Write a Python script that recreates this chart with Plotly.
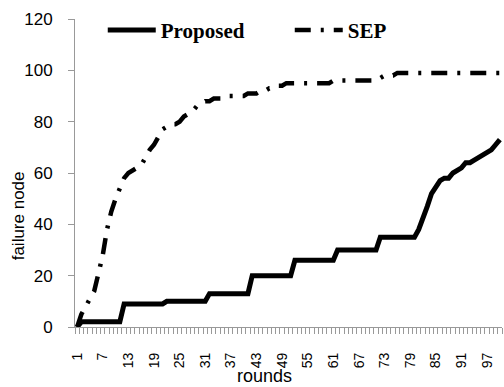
import plotly.graph_objects as go

rounds = list(range(1, 101))

proposed = (
    [0] + [2] * 10 + [9] * 10 + [10] * 10 + [13] * 10 + [20] * 10 + [26] * 10
    + [30] * 10 + [35] * 9
    + [38, 42, 47, 52, 55, 57, 58, 58, 60, 61, 62, 64, 64, 65, 66, 67, 68, 69, 71, 73]
)

sep = (
    [0, 5, 8, 11, 14, 21, 28, 38, 45, 50,
     54, 58, 60, 61, 62, 63, 66, 69, 71, 74,
     77, 78, 79, 79, 80, 82, 83, 84, 86, 87,
     88, 88, 89, 89, 89, 90, 90, 90, 90, 90,
     91, 91, 91, 92, 92, 93, 93, 94, 94, 95]
    + [95] * 10 + [96] * 10 + [97, 97, 98, 98, 98] + [99] * 25
)

xtick_vals = list(range(1, 101, 6))

fig = go.Figure()
fig.add_trace(go.Scatter(x=rounds, y=proposed, mode="lines", name="Proposed",
                         line=dict(color="black", width=5)))
fig.add_trace(go.Scatter(x=rounds, y=sep, mode="lines", name="SEP",
                         line=dict(color="black", width=4.5, dash="16px,10px,3px,10px")))

fig.update_layout(
    width=504, height=387,
    margin=dict(l=75, r=2, t=19, b=60),
    paper_bgcolor="white", plot_bgcolor="white",
    showlegend=True,
    legend=dict(orientation="h", x=0.065, y=1.03, xanchor="left", yanchor="top",
                font=dict(family="Liberation Serif", size=21, color="black", weight="bold"),
                bgcolor="rgba(0,0,0,0)", entrywidth=124, itemwidth=48,
                tracegroupgap=0),
    font=dict(family="Liberation Sans", color="black"),
)

fig.update_xaxes(
    range=[0.5, 100.5], tickmode="array", tickvals=xtick_vals,
    ticktext=[str(v) for v in xtick_vals], tickangle=-90,
    tickfont=dict(family="Liberation Sans", size=14, color="black"),
    ticks="", ticklabelstandoff=19,
    showline=True, linecolor="#999999", linewidth=1, showgrid=False, zeroline=False,
    minor=dict(ticks="outside", tick0=0.5, dtick=1, ticklen=6, tickcolor="#999999", showgrid=False),
)
fig.update_yaxes(
    range=[0, 120], dtick=20, tick0=0,
    tickfont=dict(family="Liberation Sans", size=17, color="black"),
    ticks="outside", ticklen=6, tickcolor="#999999", ticklabelstandoff=12,
    showline=True, linecolor="#999999", linewidth=1, showgrid=False, zeroline=False,
)

fig.add_annotation(text="rounds", xref="paper", yref="paper", x=0.443, y=-0.159,
                   xanchor="center", yanchor="middle", showarrow=False,
                   font=dict(family="Liberation Sans", size=18, color="black"))
fig.add_annotation(text="failure node", xref="paper", yref="paper", x=-0.133, y=0.36,
                   xanchor="center", yanchor="middle", textangle=-90, showarrow=False,
                   font=dict(family="Liberation Sans", size=17, color="black"))

fig.write_html("out.html")
